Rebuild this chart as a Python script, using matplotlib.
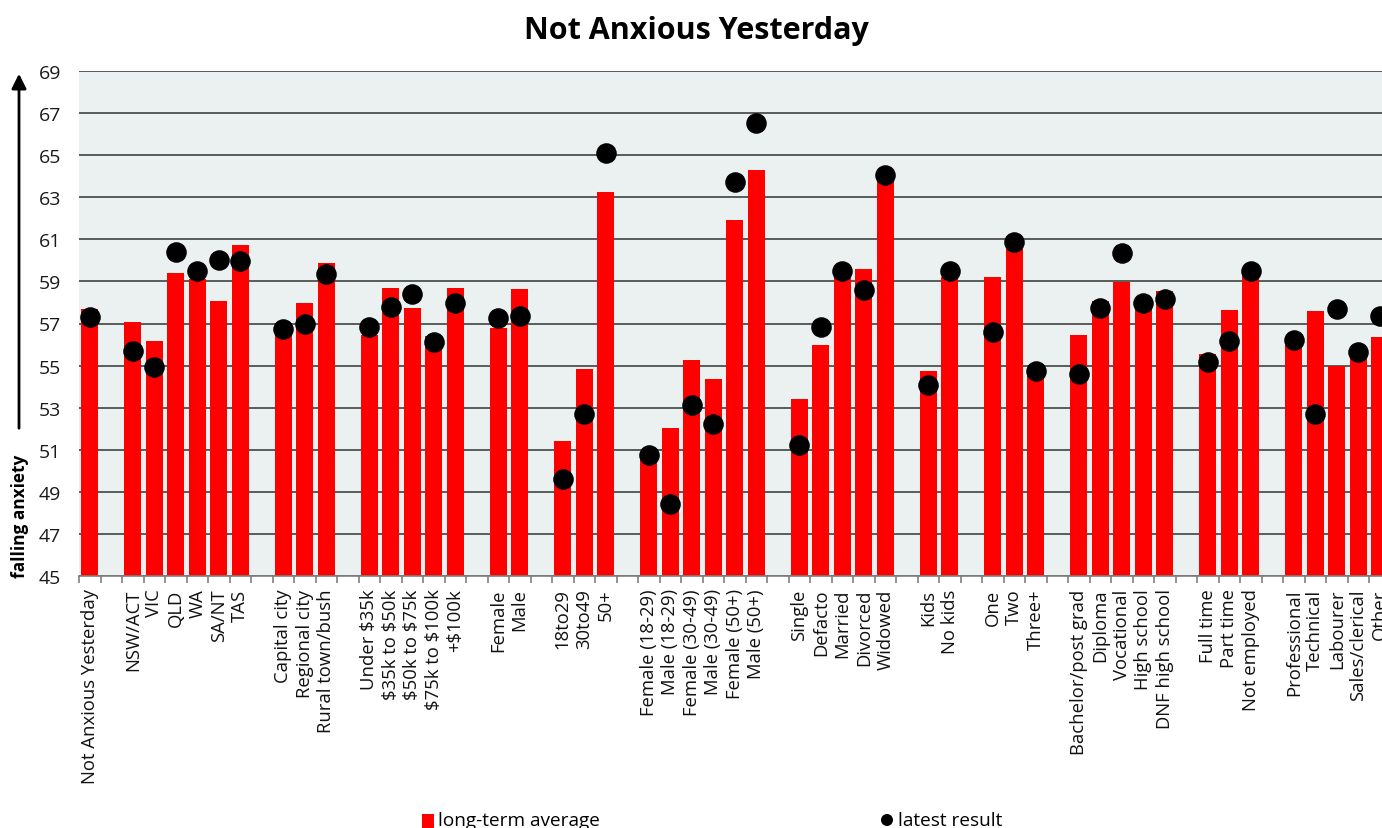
import numpy as np
import matplotlib
matplotlib.use("Agg")
import matplotlib.pyplot as plt
from matplotlib.patches import Rectangle, Ellipse

plt.rcParams['font.family'] = ['Open Sans', 'DejaVu Sans']

# One slot per category; empty strings are spacer slots between groups
labels = [
    "Not Anxious Yesterday", "",
    "NSW/ACT", "VIC", "QLD", "WA", "SA/NT", "TAS", "",
    "Capital city", "Regional city", "Rural town/bush", "",
    "Under \\$35k", "\\$35k to \\$50k", "\\$50k to \\$75k", "\\$75k to \\$100k", "+\\$100k", "",
    "Female", "Male", "",
    "18to29", "30to49", "50+", "",
    "Female (18-29)", "Male (18-29)", "Female (30-49)", "Male (30-49)", "Female (50+)", "Male (50+)", "",
    "Single", "Defacto", "Married", "Divorced", "Widowed", "",
    "Kids", "No kids", "",
    "One", "Two", "Three+", "",
    "Bachelor/post grad", "Diploma", "Vocational", "High school", "DNF high school", "",
    "Full time", "Part time", "Not employed", "",
    "Professional", "Technical", "Labourer", "Sales/clerical", "Other",
]

long_term = [
    57.7, None,
    57.07, 56.17, 59.40, 59.12, 58.07, 60.73, None,
    56.7, 57.98, 59.88, None,
    56.45, 58.69, 57.74, 56.42, 58.69, None,
    56.79, 58.64, None,
    51.42, 54.84, 63.25, None,
    50.7, 52.03, 55.27, 54.36, 61.92, 64.30, None,
    53.41, 55.98, 59.3, 59.59, 63.9, None,
    54.74, 59.2, None,
    59.21, 60.54, 54.7, None,
    56.45, 58.07, 58.97, 57.85, 58.55, None,
    55.55, 57.64, 59.4, None,
    56.3, 57.59, 55.0, 55.6, 56.36,
]

latest = [
    57.3, None,
    55.71, 54.92, 60.38, 59.48, 60.03, 59.97, None,
    56.74, 56.98, 59.35, None,
    56.83, 57.77, 58.40, 56.11, 57.96, None,
    57.25, 57.34, None,
    49.60, 52.68, 65.09, None,
    50.77, 48.41, 53.13, 52.24, 63.74, 66.55, None,
    51.21, 56.83, 59.48, 58.58, 64.07, None,
    54.09, 59.48, None,
    56.60, 60.87, 54.76, None,
    54.59, 57.72, 60.37, 57.96, 58.18, None,
    55.15, 56.15, 59.50, None,
    56.22, 52.68, 57.69, 55.66, 57.38,
]

y_ticks = list(range(45, 70, 2))

W, H = 1382, 829
fig = plt.figure(figsize=(W / 100, H / 100), dpi=100)
ax = fig.add_axes([79 / W, 1 - 577 / H, (W - 79) / W, 505 / H])
ax.set_facecolor("#EBF1F1")

x = np.arange(len(labels))
lt = np.array([np.nan if v is None else v for v in long_term], dtype=float)
lr = np.array([np.nan if v is None else v for v in latest], dtype=float)

ax.bar(x, lt, width=0.79, color="#FF0000", zorder=2)
ax.plot(x, lr, linestyle="none", marker="o", ms=13.8, color="black", zorder=3)

ax.set_yticks(y_ticks)
ax.set_yticklabels([str(t) for t in y_ticks], fontsize=14, color="#1a1a1a")
ax.yaxis.grid(True, color="#5a5a5a", linewidth=1.4, zorder=1)
ax.set_axisbelow(True)
ax.tick_params(axis="y", length=0, pad=13)

ax.set_xticks(x)
ax.set_xticklabels(labels, rotation=90, fontsize=13.3, color="#111111")
ax.set_xticks(np.arange(len(labels) + 1) - 0.5, minor=True)
ax.tick_params(axis="x", which="major", length=0, pad=9)
ax.tick_params(axis="x", which="minor", length=5, width=1.2, color="#808080")

# Limits last so the tick settings cannot widen them
ax.set_ylim(45, 69)
ax.set_xlim(-0.5, (W - 79) / 21.5 - 0.5)

for side in ("left", "right", "top"):
    ax.spines[side].set_visible(False)
ax.spines["bottom"].set_color("#808080")
ax.spines["bottom"].set_linewidth(1.2)

# Title
fig.text(696 / W, 1 - 31 / H, "Not Anxious Yesterday", ha="center", va="center",
         fontsize=22, fontweight="bold", color="black")

# Direction arrow and axis caption
ax.annotate("", xy=(19, H - 72), xytext=(19, H - 432), xycoords="figure pixels",
            textcoords="figure pixels",
            arrowprops=dict(arrowstyle="-|>", lw=2, color="black", mutation_scale=22))
fig.text(20 / W, 1 - 516 / H, "falling anxiety", rotation=90, ha="center", va="center",
         fontsize=12.4, fontweight="bold", color="black")

# Legend along the bottom edge
fig.add_artist(Rectangle((422 / W, 0), 12 / W, 14 / H, transform=fig.transFigure,
                         facecolor="#FF0000", edgecolor="none"))
fig.text(438 / W, 3 / H, "long-term average", ha="left", va="baseline",
         fontsize=13.7, color="black")
fig.add_artist(Ellipse((887 / W, 8 / H), 12 / W, 12 / H, transform=fig.transFigure,
                       facecolor="black", edgecolor="none"))
fig.text(898 / W, 3 / H, "latest result", ha="left", va="baseline",
         fontsize=13.7, color="black")

fig.savefig("out.png", dpi=100)
